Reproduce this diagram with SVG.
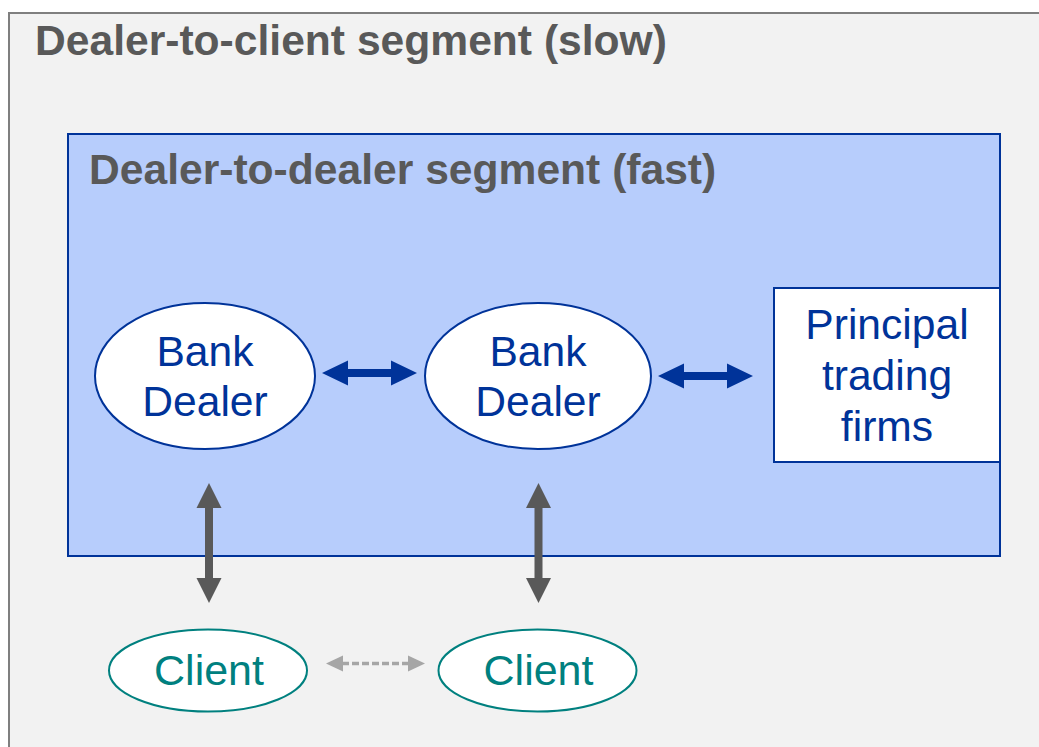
<svg xmlns="http://www.w3.org/2000/svg" width="1039" height="747" viewBox="0 0 1039 747">
<style>
.title{font-family:"Liberation Sans",Arial,sans-serif;font-weight:bold;font-size:42.6px;fill:#595959}
.blue{font-family:"Liberation Sans",Arial,sans-serif;font-size:42.6px;fill:#003399;text-anchor:middle}
.teal{font-family:"Liberation Sans",Arial,sans-serif;font-size:43px;fill:#00807f;text-anchor:middle}
.dealer{fill:#ffffff;stroke:#003399;stroke-width:2}
.client{fill:#ffffff;stroke:#00807f;stroke-width:2}
.barrow{fill:#003399}
.garrow{fill:#595959}
</style>
<rect x="0" y="0" width="1039" height="747" fill="#ffffff"/>
<g id="dealer-to-client">
<rect x="9" y="13" width="1040" height="750" fill="#f2f2f2" stroke="#7f7f7f" stroke-width="2"/>
<text class="title" x="35" y="55">Dealer-to-client segment (slow)</text>
</g>
<g id="dealer-to-dealer">
<rect x="68" y="134" width="932" height="422" fill="#b7cdfc" stroke="#003399" stroke-width="2"/>
<text class="title" x="89" y="184">Dealer-to-dealer segment (fast)</text>
</g>
<g id="bank-dealer-1">
<ellipse class="dealer" cx="205" cy="376" rx="110" ry="73"/>
<text class="blue" x="205" y="366">Bank</text>
<text class="blue" x="205" y="416">Dealer</text>
</g>
<g id="bank-dealer-2">
<ellipse class="dealer" cx="538" cy="376" rx="113" ry="73"/>
<text class="blue" x="538" y="366">Bank</text>
<text class="blue" x="538" y="416">Dealer</text>
</g>
<g id="principal-trading-firms">
<rect x="774" y="288" width="226" height="174" fill="#ffffff" stroke="#003399" stroke-width="2"/>
<text class="blue" x="887" y="339">Principal</text>
<text class="blue" x="887" y="390">trading</text>
<text class="blue" x="887" y="441">firms</text>
</g>
<g id="client-1">
<ellipse class="client" cx="208" cy="670.5" rx="99" ry="41"/>
<text class="teal" x="209" y="685">Client</text>
</g>
<g id="client-2">
<ellipse class="client" cx="537.5" cy="670.5" rx="99" ry="41"/>
<text class="teal" x="538.5" y="685">Client</text>
</g>
<g id="connectors">
<polygon class="barrow" points="322,373 348,360.5 348,369 391,369 391,360.5 417,373 391,385.5 391,377 348,377 348,385.5"/>
<polygon class="barrow" points="658,376 684,363.5 684,372 727,372 727,363.5 753,376 727,388.5 727,380 684,380 684,388.5"/>
<polygon class="garrow" points="209,483 221.5,508 213,508 213,578 221.5,578 209,603 196.5,578 205,578 205,508 196.5,508"/>
<polygon class="garrow" points="538.5,483 551,508 542.5,508 542.5,578 551,578 538.5,603 526,578 534.5,578 534.5,508 526,508"/>
<line x1="342" y1="663.5" x2="409" y2="663.5" stroke="#a6a6a6" stroke-width="3.5" stroke-dasharray="7 3"/>
<polygon points="326,663.5 343,655.5 343,671.5" fill="#a6a6a6"/>
<polygon points="425,663.5 408,655.5 408,671.5" fill="#a6a6a6"/>
</g>
</svg>
